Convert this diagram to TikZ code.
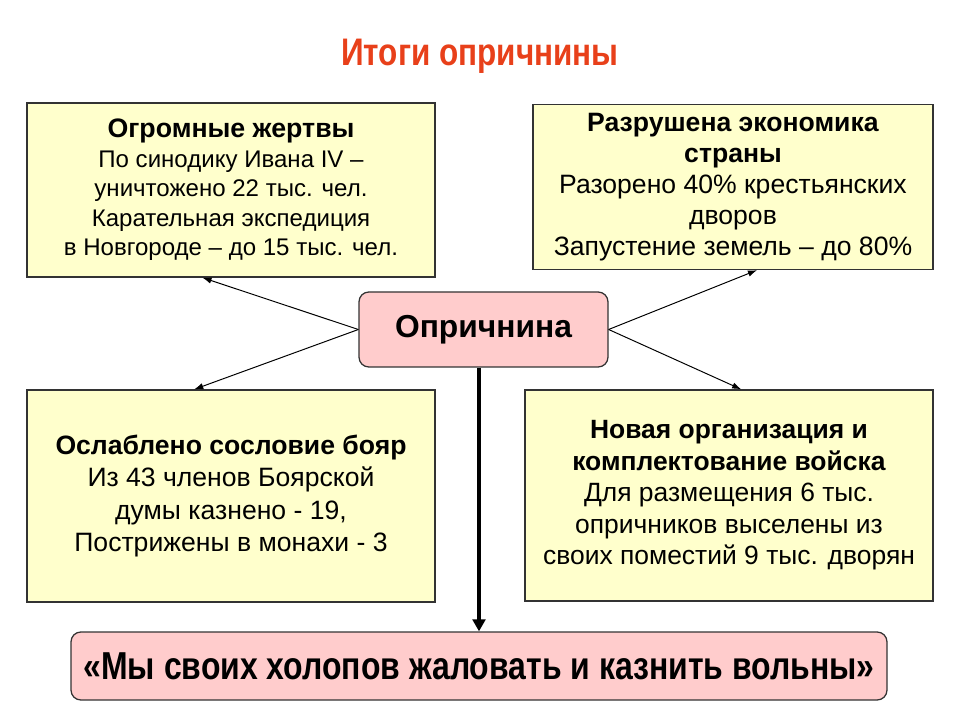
\documentclass[tikz,border=0pt]{standalone}
\usepackage{fontspec}
\setmainfont{Liberation Sans}
\newfontfamily\narrowbold[FakeStretch=0.82]{Liberation Sans Bold}
\usepackage{xcolor}
\usetikzlibrary{arrows.meta,calc}
\definecolor{titlered}{HTML}{E8401A}
\definecolor{boxyellow}{HTML}{FFFFCC}
\definecolor{boxpink}{HTML}{FFCCCC}
\definecolor{edge}{HTML}{333333}

\begin{document}
\begin{tikzpicture}[x=0.025cm, y=-0.025cm,
    factbox/.style={draw=edge, line width=0.9pt, fill=boxyellow, align=center, inner sep=0pt,
        font=\fontsize{18.8}{22.4}\selectfont},
    mainbox/.style={draw=edge, line width=0.9pt, fill=boxpink, rounded corners=7pt, align=center, inner sep=0pt},
    thinarrow/.style={-{Latex[length=6.5pt,width=4.5pt]}, line width=0.7pt},
    thickarrow/.style={-{Triangle[length=8.5pt,width=9pt]}, line width=2.4pt}]
    \useasboundingbox (0,0) rectangle (960,720);
    \node (title) at (480,56) {\narrowbold\fontsize{27.3}{30}\selectfont\color{titlered}Итоги опричнины};
    \node[factbox, minimum width=408*0.025cm, minimum height=174*0.025cm,
        font=\fontsize{17.1}{21}\selectfont] (victims) at (231,190)
        {{\fontsize{19}{21}\selectfont\bfseries Огромные жертвы}\\По синодику Ивана IV –\\уничтожено 22 тыс. чел.\\Карательная экспедиция\\в Новгороде – до 15 тыс. чел.};
    \node[factbox, minimum width=400*0.025cm, minimum height=165*0.025cm,
        font=\fontsize{18.9}{22}\selectfont] (economy) at (733,187)
        {\textbf{Разрушена экономика}\\\textbf{страны}\\Разорено 40\% крестьянских\\дворов\\Запустение земель – до 80\%};
    \node[mainbox, minimum width=249*0.025cm, minimum height=75*0.025cm,
        font=\bfseries\fontsize{22.6}{26}\selectfont] (oprichnina) at (483.5,329.5) {Опричнина};
    \node[factbox, minimum width=408*0.025cm, minimum height=212*0.025cm,
        font=\fontsize{18.9}{22.8}\selectfont] (boyars) at (231,496)
        {\textbf{Ослаблено сословие бояр}\\Из 43 членов Боярской\\думы казнено - 19,\\Пострижены в монахи - 3};
    \node[factbox, minimum width=408*0.025cm, minimum height=211*0.025cm] (army) at (729,495.5)
        {\textbf{Новая организация и}\\\textbf{комплектование войска}\\Для размещения 6 тыс.\\опричников выселены из\\своих поместий 9 тыс. дворян};
    \node[mainbox, minimum width=816*0.025cm, minimum height=68*0.025cm,
        font=\narrowbold\fontsize{27.7}{31}\selectfont] (motto) at (479,666)
        {«Мы своих холопов жаловать и казнить вольны»};
    \draw[thinarrow] (oprichnina.west) -- ($(victims.south west)!0.43!(victims.south east)$);
    \draw[thinarrow] (oprichnina.west) -- ($(boyars.north west)!0.41!(boyars.north east)$);
    \draw[thinarrow] (oprichnina.east) -- ($(economy.south west)!0.56!(economy.south east)$);
    \draw[thinarrow] (oprichnina.east) -- ($(army.north west)!0.53!(army.north east)$);
    \draw[thickarrow] (oprichnina.south -| motto.north) -- (motto.north);
\end{tikzpicture}
\end{document}
